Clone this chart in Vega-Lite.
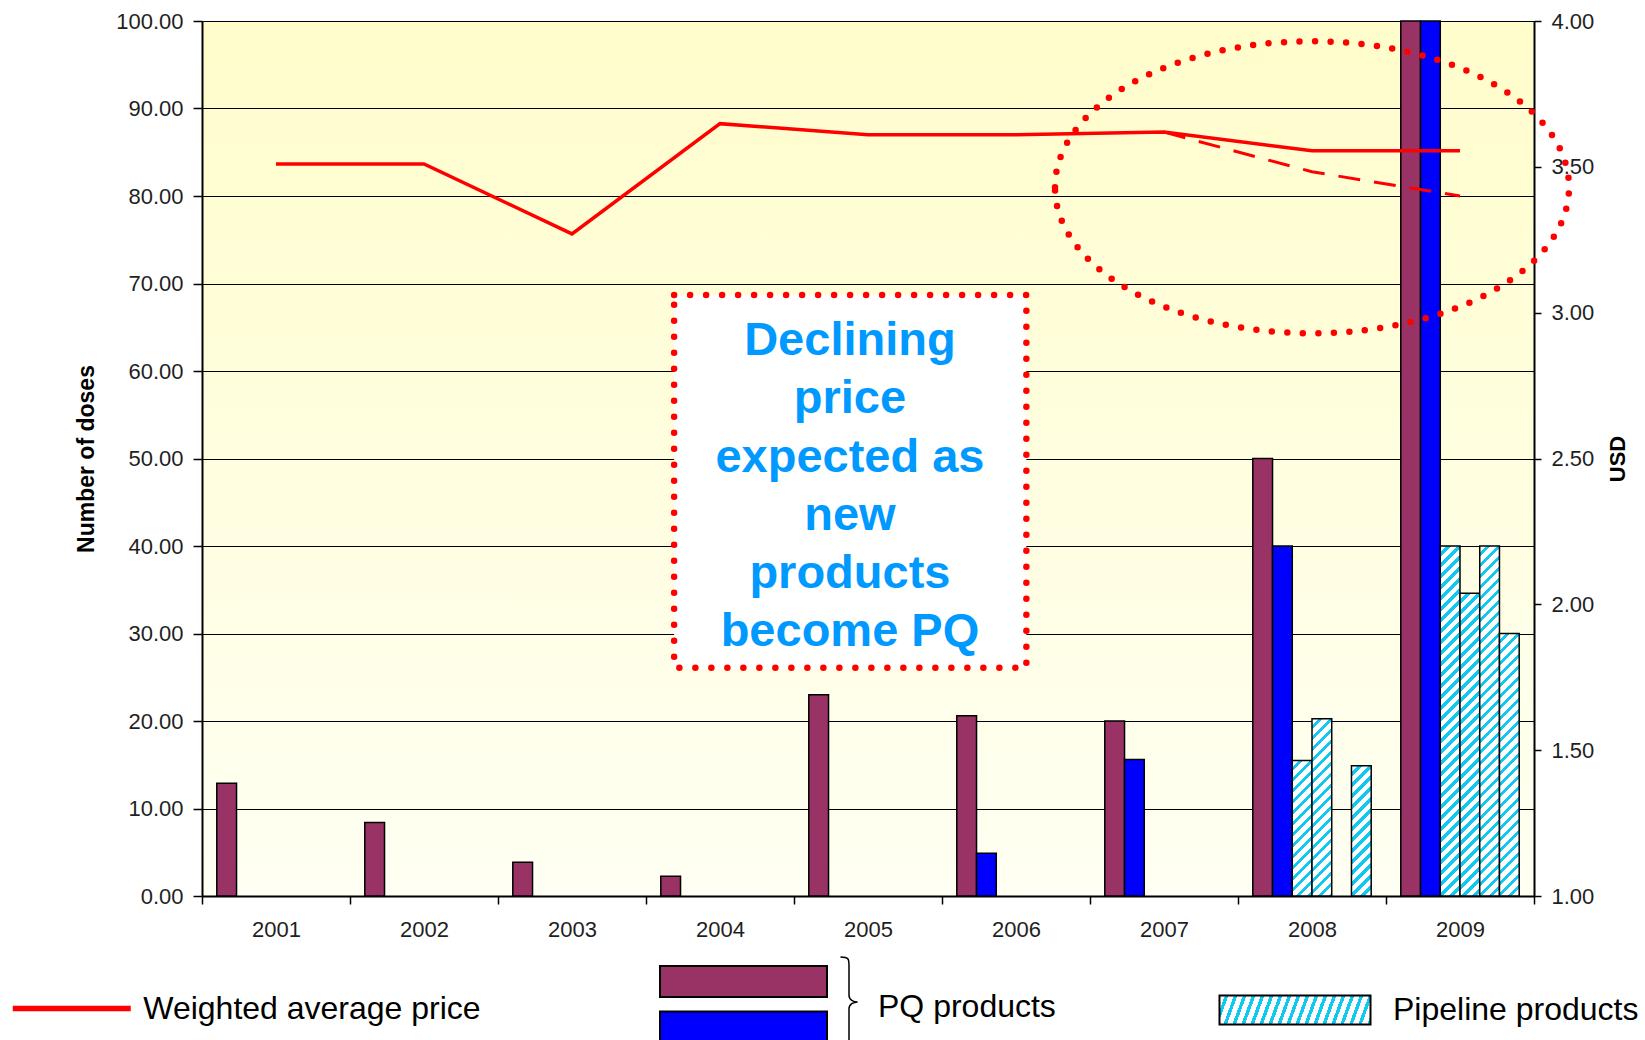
{
  "$schema": "https://vega.github.io/schema/vega-lite/v6.json",
  "width": 1332,
  "height": 875,
  "autosize": {"type": "none"},
  "padding": {"left": 202, "top": 21, "right": 111, "bottom": 144},
  "background": "white",
  "view": {
    "stroke": "#9a9a9a",
    "strokeWidth": 1,
    "fill": {"gradient": "linear", "x1": 0, "y1": 0, "x2": 0.0001, "y2": 1, "stops": [{"offset": 0, "color": "#fffdcb"}, {"offset": 1, "color": "#fffff3"}]}
  },
  "config": {
    "font": "Liberation Sans",
    "axis": {"labelFont": "Liberation Sans", "titleFont": "Liberation Sans"},
    "legend": {"labelFont": "Liberation Sans", "labelFontSize": 32, "labelColor": "black", "padding": 0, "labelLimit": 500, "titlePadding": 0}
  },
  "params": [
    {"name": "hatchStops", "value": [
      {"offset": 0, "color": "#ffffff"}, {"offset": 0.0165, "color": "#ffffff"}, {"offset": 0.0165, "color": "#10c8f0"}, {"offset": 0.0275, "color": "#10c8f0"},
      {"offset": 0.0275, "color": "#ffffff"}, {"offset": 0.044, "color": "#ffffff"}, {"offset": 0.044, "color": "#10c8f0"}, {"offset": 0.055, "color": "#10c8f0"},
      {"offset": 0.055, "color": "#ffffff"}, {"offset": 0.0715, "color": "#ffffff"}, {"offset": 0.0715, "color": "#10c8f0"}, {"offset": 0.0825, "color": "#10c8f0"},
      {"offset": 0.0825, "color": "#ffffff"}, {"offset": 0.099, "color": "#ffffff"}, {"offset": 0.099, "color": "#10c8f0"}, {"offset": 0.11, "color": "#10c8f0"},
      {"offset": 0.11, "color": "#ffffff"}, {"offset": 0.1265, "color": "#ffffff"}, {"offset": 0.1265, "color": "#10c8f0"}, {"offset": 0.1375, "color": "#10c8f0"},
      {"offset": 0.1375, "color": "#ffffff"}, {"offset": 0.154, "color": "#ffffff"}, {"offset": 0.154, "color": "#10c8f0"}, {"offset": 0.165, "color": "#10c8f0"},
      {"offset": 0.165, "color": "#ffffff"}, {"offset": 0.1815, "color": "#ffffff"}, {"offset": 0.1815, "color": "#10c8f0"}, {"offset": 0.1925, "color": "#10c8f0"},
      {"offset": 0.1925, "color": "#ffffff"}, {"offset": 0.209, "color": "#ffffff"}, {"offset": 0.209, "color": "#10c8f0"}, {"offset": 0.22, "color": "#10c8f0"},
      {"offset": 0.22, "color": "#ffffff"}, {"offset": 0.2365, "color": "#ffffff"}, {"offset": 0.2365, "color": "#10c8f0"}, {"offset": 0.2475, "color": "#10c8f0"},
      {"offset": 0.2475, "color": "#ffffff"}, {"offset": 0.264, "color": "#ffffff"}, {"offset": 0.264, "color": "#10c8f0"}, {"offset": 0.275, "color": "#10c8f0"},
      {"offset": 0.275, "color": "#ffffff"}, {"offset": 0.2915, "color": "#ffffff"}, {"offset": 0.2915, "color": "#10c8f0"}, {"offset": 0.3025, "color": "#10c8f0"},
      {"offset": 0.3025, "color": "#ffffff"}, {"offset": 0.319, "color": "#ffffff"}, {"offset": 0.319, "color": "#10c8f0"}, {"offset": 0.33, "color": "#10c8f0"},
      {"offset": 0.33, "color": "#ffffff"}, {"offset": 0.3465, "color": "#ffffff"}, {"offset": 0.3465, "color": "#10c8f0"}, {"offset": 0.3575, "color": "#10c8f0"},
      {"offset": 0.3575, "color": "#ffffff"}, {"offset": 0.374, "color": "#ffffff"}, {"offset": 0.374, "color": "#10c8f0"}, {"offset": 0.385, "color": "#10c8f0"},
      {"offset": 0.385, "color": "#ffffff"}, {"offset": 0.4015, "color": "#ffffff"}, {"offset": 0.4015, "color": "#10c8f0"}, {"offset": 0.4125, "color": "#10c8f0"},
      {"offset": 0.4125, "color": "#ffffff"}, {"offset": 0.429, "color": "#ffffff"}, {"offset": 0.429, "color": "#10c8f0"}, {"offset": 0.44, "color": "#10c8f0"},
      {"offset": 0.44, "color": "#ffffff"}, {"offset": 0.4565, "color": "#ffffff"}, {"offset": 0.4565, "color": "#10c8f0"}, {"offset": 0.4675, "color": "#10c8f0"},
      {"offset": 0.4675, "color": "#ffffff"}, {"offset": 0.484, "color": "#ffffff"}, {"offset": 0.484, "color": "#10c8f0"}, {"offset": 0.495, "color": "#10c8f0"},
      {"offset": 0.495, "color": "#ffffff"}, {"offset": 0.5115, "color": "#ffffff"}, {"offset": 0.5115, "color": "#10c8f0"}, {"offset": 0.5225, "color": "#10c8f0"},
      {"offset": 0.5225, "color": "#ffffff"}, {"offset": 0.539, "color": "#ffffff"}, {"offset": 0.539, "color": "#10c8f0"}, {"offset": 0.55, "color": "#10c8f0"},
      {"offset": 0.55, "color": "#ffffff"}, {"offset": 0.5665, "color": "#ffffff"}, {"offset": 0.5665, "color": "#10c8f0"}, {"offset": 0.5775, "color": "#10c8f0"},
      {"offset": 0.5775, "color": "#ffffff"}, {"offset": 0.594, "color": "#ffffff"}, {"offset": 0.594, "color": "#10c8f0"}, {"offset": 0.605, "color": "#10c8f0"},
      {"offset": 0.605, "color": "#ffffff"}, {"offset": 0.6215, "color": "#ffffff"}, {"offset": 0.6215, "color": "#10c8f0"}, {"offset": 0.6325, "color": "#10c8f0"},
      {"offset": 0.6325, "color": "#ffffff"}, {"offset": 0.649, "color": "#ffffff"}, {"offset": 0.649, "color": "#10c8f0"}, {"offset": 0.66, "color": "#10c8f0"},
      {"offset": 0.66, "color": "#ffffff"}, {"offset": 0.6765, "color": "#ffffff"}, {"offset": 0.6765, "color": "#10c8f0"}, {"offset": 0.6875, "color": "#10c8f0"},
      {"offset": 0.6875, "color": "#ffffff"}, {"offset": 0.704, "color": "#ffffff"}, {"offset": 0.704, "color": "#10c8f0"}, {"offset": 0.715, "color": "#10c8f0"},
      {"offset": 0.715, "color": "#ffffff"}, {"offset": 0.7315, "color": "#ffffff"}, {"offset": 0.7315, "color": "#10c8f0"}, {"offset": 0.7425, "color": "#10c8f0"},
      {"offset": 0.7425, "color": "#ffffff"}, {"offset": 0.759, "color": "#ffffff"}, {"offset": 0.759, "color": "#10c8f0"}, {"offset": 0.77, "color": "#10c8f0"},
      {"offset": 0.77, "color": "#ffffff"}, {"offset": 0.7865, "color": "#ffffff"}, {"offset": 0.7865, "color": "#10c8f0"}, {"offset": 0.7975, "color": "#10c8f0"},
      {"offset": 0.7975, "color": "#ffffff"}, {"offset": 0.814, "color": "#ffffff"}, {"offset": 0.814, "color": "#10c8f0"}, {"offset": 0.825, "color": "#10c8f0"},
      {"offset": 0.825, "color": "#ffffff"}, {"offset": 0.8415, "color": "#ffffff"}, {"offset": 0.8415, "color": "#10c8f0"}, {"offset": 0.8525, "color": "#10c8f0"},
      {"offset": 0.8525, "color": "#ffffff"}, {"offset": 0.869, "color": "#ffffff"}, {"offset": 0.869, "color": "#10c8f0"}, {"offset": 0.88, "color": "#10c8f0"},
      {"offset": 0.88, "color": "#ffffff"}, {"offset": 0.8965, "color": "#ffffff"}, {"offset": 0.8965, "color": "#10c8f0"}, {"offset": 0.9075, "color": "#10c8f0"},
      {"offset": 0.9075, "color": "#ffffff"}, {"offset": 0.924, "color": "#ffffff"}, {"offset": 0.924, "color": "#10c8f0"}, {"offset": 0.935, "color": "#10c8f0"},
      {"offset": 0.935, "color": "#ffffff"}, {"offset": 0.9515, "color": "#ffffff"}, {"offset": 0.9515, "color": "#10c8f0"}, {"offset": 0.9625, "color": "#10c8f0"},
      {"offset": 0.9625, "color": "#ffffff"}, {"offset": 0.979, "color": "#ffffff"}, {"offset": 0.979, "color": "#10c8f0"}, {"offset": 0.99, "color": "#10c8f0"},
      {"offset": 0.99, "color": "#ffffff"}, {"offset": 1, "color": "#ffffff"}
    ]}
  ],
  "datasets": {
    "pq": [
      {"year": "2001", "series": "PQ A", "group": "PQ products", "doses": 12.9},
      {"year": "2002", "series": "PQ A", "group": "PQ products", "doses": 8.4},
      {"year": "2003", "series": "PQ A", "group": "PQ products", "doses": 3.85},
      {"year": "2004", "series": "PQ A", "group": "PQ products", "doses": 2.25},
      {"year": "2005", "series": "PQ A", "group": "PQ products", "doses": 23.0},
      {"year": "2006", "series": "PQ A", "group": "PQ products", "doses": 20.6},
      {"year": "2006", "series": "PQ B", "group": "PQ products", "doses": 4.9},
      {"year": "2007", "series": "PQ A", "group": "PQ products", "doses": 20.0},
      {"year": "2007", "series": "PQ B", "group": "PQ products", "doses": 15.6},
      {"year": "2008", "series": "PQ A", "group": "PQ products", "doses": 50.0},
      {"year": "2008", "series": "PQ B", "group": "PQ products", "doses": 40.0},
      {"year": "2009", "series": "PQ A", "group": "PQ products", "doses": 100.0},
      {"year": "2009", "series": "PQ B", "group": "PQ products", "doses": 100.0}
    ],
    "pipeline": [
      {"year": "2008", "series": "Pipeline 1", "group": "Pipeline products", "doses": 15.5},
      {"year": "2008", "series": "Pipeline 2", "group": "Pipeline products", "doses": 20.25},
      {"year": "2008", "series": "Pipeline 4", "group": "Pipeline products", "doses": 14.9},
      {"year": "2009", "series": "Pipeline 1", "group": "Pipeline products", "doses": 40.0},
      {"year": "2009", "series": "Pipeline 2", "group": "Pipeline products", "doses": 34.6},
      {"year": "2009", "series": "Pipeline 3", "group": "Pipeline products", "doses": 40.0},
      {"year": "2009", "series": "Pipeline 4", "group": "Pipeline products", "doses": 30.0}
    ],
    "price": [
      {"year": "2001", "usd": 3.51, "measure": "Weighted average price"},
      {"year": "2002", "usd": 3.51, "measure": "Weighted average price"},
      {"year": "2003", "usd": 3.27, "measure": "Weighted average price"},
      {"year": "2004", "usd": 3.648, "measure": "Weighted average price"},
      {"year": "2005", "usd": 3.61, "measure": "Weighted average price"},
      {"year": "2006", "usd": 3.61, "measure": "Weighted average price"},
      {"year": "2007", "usd": 3.619, "measure": "Weighted average price"},
      {"year": "2008", "usd": 3.555, "measure": "Weighted average price"},
      {"year": "2009", "usd": 3.555, "measure": "Weighted average price"}
    ],
    "projection": [
      {"year": "2007", "usd": 3.619},
      {"year": "2008", "usd": 3.483},
      {"year": "2009", "usd": 3.40}
    ]
  },
  "layer": [
    {
      "layer": [
        {
          "data": {"name": "pq"},
          "mark": {"type": "bar", "stroke": "black"},
          "encoding": {
            "x": {
              "field": "year", "type": "nominal",
              "scale": {"domain": ["2001","2002","2003","2004","2005","2006","2007","2008","2009"], "paddingInner": 0, "paddingOuter": 0},
              "axis": {"title": null, "labelAngle": 0, "tickBand": "extent", "tickSize": 8, "tickColor": "black", "tickWidth": 1.5, "domainColor": "black", "domainWidth": 2, "labelFontSize": 22, "labelColor": "#1f1f1f", "labelPadding": 15, "grid": false}
            },
            "xOffset": {
              "field": "series", "type": "nominal",
              "scale": {"domain": ["PQ A","PQ B","Pipeline 1","Pipeline 2","Pipeline 3","Pipeline 4"], "paddingInner": 0, "paddingOuter": 0.75}
            },
            "y": {
              "field": "doses", "type": "quantitative", "stack": null,
              "scale": {"domain": [0, 100], "nice": false},
              "axis": {"orient": "left", "values": [0,10,20,30,40,50,60,70,80,90,100], "format": ".2f", "grid": true, "gridColor": "black", "gridOpacity": 1, "gridWidth": 1, "domainColor": "black", "domainWidth": 2, "tickColor": "black", "tickSize": 9, "tickWidth": 1.5, "labelFontSize": 22, "labelColor": "#1f1f1f", "labelPadding": 10, "title": "Number of doses", "titleFontSize": 23, "titleFontWeight": "bold", "titleColor": "black", "titlePadding": 17}
            },
            "fill": {
              "field": "series", "type": "nominal",
              "scale": {"domain": ["PQ A", "PQ B"], "range": ["#993366", "#0000ff"]},
              "legend": {"orient": "none", "legendX": 525, "legendY": 944, "title": null, "direction": "vertical", "symbolType": "M-5.387,-1H5.387V1H-5.387Z", "symbolSize": 961, "symbolStrokeColor": "black", "symbolStrokeWidth": 2, "labelExpr": "''", "labelFontSize": 1, "rowPadding": 6.5}
            },
            "strokeWidth": {
              "field": "group", "type": "nominal",
              "scale": {"domain": ["PQ products"], "range": [1.5, 1.5]},
              "legend": {"orient": "none", "legendX": 601, "legendY": 935, "title": null, "symbolType": "M-0.19,-1C0,-1 0,-0.95 0,-0.8L0,-0.15C0,-0.05 0.1,0 0.19,0C0.1,0 0,0.05 0,0.15L0,0.8C0,0.95 0,1 -0.19,1", "symbolSize": 8100, "symbolStrokeColor": "black", "symbolStrokeWidth": 1.5, "symbolFillColor": "transparent", "labelOffset": -17, "encode": {"labels": {"update": {"dy": {"value": 5}}}}}
            }
          }
        },
        {
          "data": {"name": "pipeline"},
          "mark": {
            "type": "bar", "stroke": "black", "strokeWidth": 1.5,
            "fill": {"expr": "isValid(datum.doses) ? {gradient: 'linear', x1: 0, y1: 0, x2: 7892 / (datum.doses * datum.doses * 76.5625 + 389.3), y2: 3500 * datum.doses / (datum.doses * datum.doses * 76.5625 + 389.3), stops: hatchStops} : {gradient: 'linear', x1: 0, y1: 0, x2: 2.154, y2: 0.1506, stops: hatchStops}"}
          },
          "encoding": {
            "x": {"field": "year", "type": "nominal"},
            "xOffset": {"field": "series", "type": "nominal"},
            "y": {"field": "doses", "type": "quantitative", "stack": null},
            "opacity": {
              "field": "group", "type": "nominal",
              "scale": {"domain": ["Pipeline products"], "range": [1, 1]},
              "legend": {"orient": "none", "legendX": 1077, "legendY": 973, "title": null, "symbolType": "M-5.207,-1H5.207V1H-5.207Z", "symbolSize": 841, "symbolStrokeColor": "black", "symbolStrokeWidth": 2, "labelOffset": 82, "encoding": {"symbols": {"stroke": {"value": "black"}, "strokeWidth": {"value": 2}, "strokeOpacity": {"value": 1}}}}
            }
          }
        }
      ]
    },
    {
      "layer": [
        {
          "data": {"name": "price"},
          "mark": {"type": "line", "strokeWidth": 3.5},
          "encoding": {
            "x": {
              "field": "year", "type": "nominal",
              "scale": {"domain": ["2001","2002","2003","2004","2005","2006","2007","2008","2009"], "paddingInner": 0, "paddingOuter": 0},
              "axis": null
            },
            "y": {
              "field": "usd", "type": "quantitative",
              "scale": {"domain": [1, 4], "nice": false, "zero": false},
              "axis": {"orient": "right", "values": [1,1.5,2,2.5,3,3.5,4], "format": ".2f", "grid": false, "domainColor": "black", "domainWidth": 2, "tickColor": "black", "tickSize": 7, "tickWidth": 1.5, "labelFontSize": 22, "labelColor": "#1f1f1f", "labelPadding": 10, "title": "USD", "titleFontSize": 22, "titleFontWeight": "bold", "titleColor": "black", "titleAngle": 270, "titlePadding": 36}
            },
            "stroke": {
              "field": "measure", "type": "nominal",
              "scale": {"domain": ["Weighted average price"], "range": ["#ff0000"]},
              "legend": {"orient": "none", "legendX": -147.75, "legendY": 970, "title": null, "symbolType": "M-4,0H4", "symbolSize": 870.25, "symbolStrokeWidth": 5.5, "labelOffset": 54}
            }
          }
        },
        {
          "data": {"name": "projection"},
          "mark": {"type": "line", "color": "#ff0000", "strokeWidth": 3, "strokeDash": [22, 14]},
          "encoding": {
            "x": {"field": "year", "type": "nominal"},
            "y": {"field": "usd", "type": "quantitative"}
          }
        },
        {
          "data": {"values": [{"highlight": "price outlook"}]},
          "mark": {"type": "point", "shape": "M-1,0C-1,-0.3137 -0.5523,-0.568 0,-0.568C0.5523,-0.568 1,-0.3137 1,0C1,0.3137 0.5523,0.568 0,0.568C-0.5523,0.568 -1,0.3137 -1,0Z", "size": 264196, "filled": false, "fill": null, "stroke": "#ff0000", "strokeWidth": 6.5, "strokeDash": [0, 15.5], "strokeCap": "round", "opacity": 1},
          "encoding": {
            "x": {"datum": "2008", "type": "nominal"},
            "y": {"datum": 3.43, "type": "quantitative"}
          }
        }
      ]
    },
    {
      "data": {"values": [{"note": "Declining\nprice\nexpected as\nnew\nproducts\nbecome PQ"}]},
      "layer": [
        {
          "mark": {"type": "rect", "fill": "white", "stroke": "#ff0000", "strokeWidth": 6.5, "strokeDash": [0, 16], "strokeCap": "round"},
          "encoding": {
            "x": {"datum": 3.19, "type": "quantitative", "scale": {"domain": [0, 9], "nice": false, "zero": false}, "axis": null},
            "x2": {"datum": 5.57},
            "y": {"datum": 68.7, "type": "quantitative", "scale": {"domain": [0, 100], "nice": false}, "axis": null},
            "y2": {"datum": 26.1}
          }
        },
        {
          "mark": {"type": "text", "lineBreak": "\n", "font": "Liberation Sans", "fontSize": 47, "fontWeight": "bold", "color": "#0099ff", "lineHeight": 58.2, "align": "center", "baseline": "middle"},
          "encoding": {
            "x": {"datum": 4.378, "type": "quantitative"},
            "y": {"datum": 63.4, "type": "quantitative"},
            "text": {"field": "note"}
          }
        }
      ]
    }
  ],
  "resolve": {"scale": {"x": "independent", "y": "independent"}}
}
